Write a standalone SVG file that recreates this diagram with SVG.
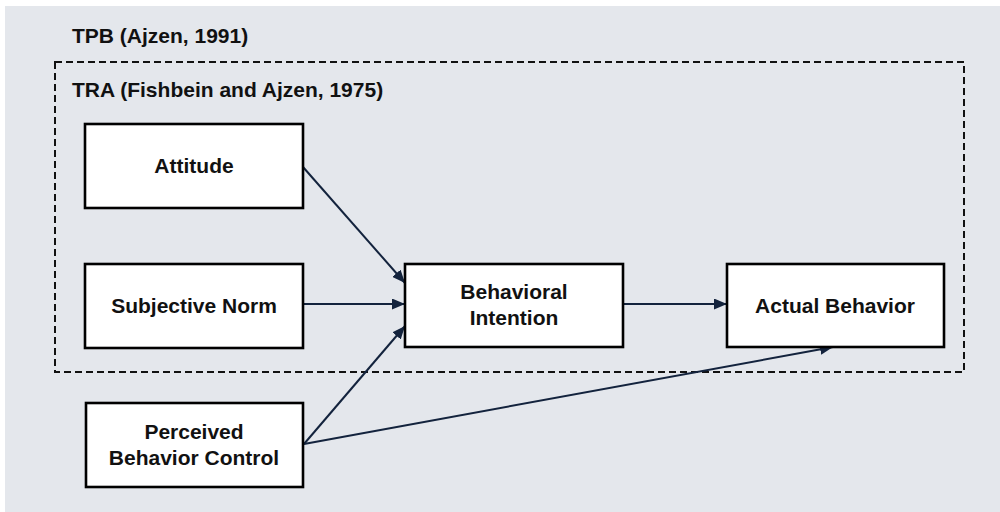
<svg xmlns="http://www.w3.org/2000/svg" width="1000" height="512" viewBox="0 0 1000 512">
  <defs>
    <marker id="arrow" markerUnits="userSpaceOnUse" markerWidth="13" markerHeight="11" refX="13" refY="5.5" orient="auto">
      <path d="M0,0 L13,5.5 L0,11 z" fill="#13233d"/>
    </marker>
    <style>
      .panel { fill: #e4e7ec; }
      .frame { fill: none; stroke: #111; stroke-width: 2; stroke-dasharray: 7 4; }
      .box { fill: #ffffff; stroke: #000; stroke-width: 2.6; }
      .label { font-family: "Liberation Sans", Arial, sans-serif; font-weight: bold; font-size: 21px; fill: #111; }
      .title { font-family: "Liberation Sans", Arial, sans-serif; font-weight: bold; font-size: 21px; fill: #111; }
      .conn { fill: none; stroke: #13233d; stroke-width: 2; marker-end: url(#arrow); }
    </style>
  </defs>

  <rect x="0" y="0" width="1000" height="512" fill="#ffffff"/>
  <rect class="panel" x="5" y="6" width="995" height="506"/>

  <g id="tpb-frame">
    <text class="title" x="72" y="43">TPB (Ajzen, 1991)</text>
  </g>
  <g id="tra-frame">
    <rect class="frame" x="55" y="62" width="909" height="310"/>
    <text class="title" x="72" y="97">TRA (Fishbein and Ajzen, 1975)</text>
  </g>

  <g id="connectors">
    <line class="conn" x1="303" y1="167" x2="405" y2="283"/>
    <line class="conn" x1="303" y1="304" x2="405" y2="304"/>
    <line class="conn" x1="304" y1="444" x2="405" y2="326"/>
    <line class="conn" x1="304" y1="444" x2="833" y2="347"/>
    <line class="conn" x1="623" y1="304" x2="727" y2="304"/>
  </g>

  <g id="attitude">
    <rect class="box" x="85" y="124" width="218" height="84"/>
    <text class="label" x="194" y="173" text-anchor="middle">Attitude</text>
  </g>
  <g id="subjective-norm">
    <rect class="box" x="85" y="264" width="218" height="84"/>
    <text class="label" x="194" y="313" text-anchor="middle">Subjective Norm</text>
  </g>
  <g id="perceived-behavior-control">
    <rect class="box" x="86" y="403" width="217" height="84"/>
    <text class="label" x="194" y="439" text-anchor="middle">Perceived</text>
    <text class="label" x="194" y="465" text-anchor="middle">Behavior Control</text>
  </g>
  <g id="behavioral-intention">
    <rect class="box" x="405" y="264" width="218" height="83"/>
    <text class="label" x="514" y="299" text-anchor="middle">Behavioral</text>
    <text class="label" x="514" y="325" text-anchor="middle">Intention</text>
  </g>
  <g id="actual-behavior">
    <rect class="box" x="727" y="264" width="217" height="83"/>
    <text class="label" x="835" y="313" text-anchor="middle">Actual Behavior</text>
  </g>
</svg>
